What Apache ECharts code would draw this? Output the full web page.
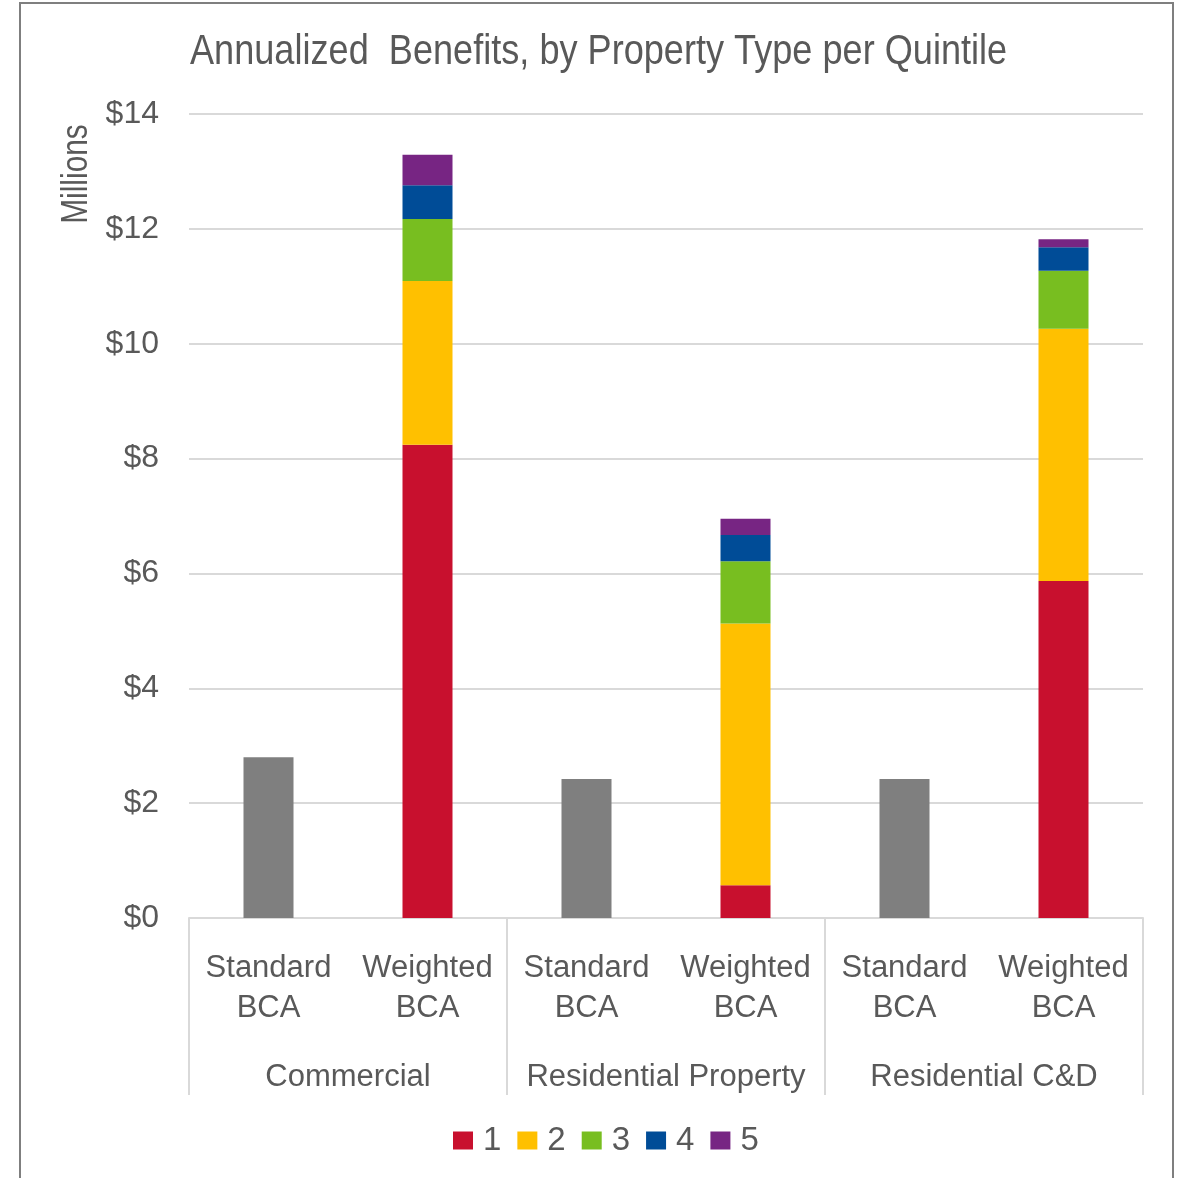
<!DOCTYPE html>
<html>
<head>
<meta charset="utf-8">
<script src="https://cdn.jsdelivr.net/npm/echarts@6/dist/echarts.min.js"></script>
<style>
html,body{margin:0;padding:0;background:#fff;}
#chart{width:1178px;height:1178px;}
</style>
</head>
<body>
<div id="chart"></div>
<script>
// ---- data ----
const categories = ['Standard\nBCA', 'Weighted\nBCA', 'Standard\nBCA', 'Weighted\nBCA', 'Standard\nBCA', 'Weighted\nBCA'];
const groups = ['Commercial', 'Residential Property', 'Residential C&D'];
const standardBCA = [2.80, null, 2.42, null, 2.42, null];
const quintile1 = [null, 8.24, null, 0.57, null, 5.87];
const quintile2 = [null, 2.85, null, 4.56, null, 4.39];
const quintile3 = [null, 1.08, null, 1.08, null, 1.01];
const quintile4 = [null, 0.59, null, 0.46, null, 0.41];
const quintile5 = [null, 0.53, null, 0.28, null, 0.14];
const quintileNames = ['1', '2', '3', '4', '5'];
const yTicks = [0, 2, 4, 6, 8, 10, 12, 14];
const titleText = 'Annualized  Benefits, by Property Type per Quintile';
const yAxisTitle = 'Millions';

const FONT = '"Liberation Sans Narrow", "Arial Narrow", "Liberation Sans", Arial, sans-serif';
const TXT = '#595959';
const quintileColors = ['#c8102e', '#ffc000', '#78be20', '#004c97', '#772583'];
const quintileData = [quintile1, quintile2, quintile3, quintile4, quintile5];

const chart = echarts.init(document.getElementById('chart'));
const series = [{
  name: 'Standard',
  type: 'bar',
  stack: 'total',
  barWidth: 50,
  data: standardBCA,
  itemStyle: { color: '#7f7f7f' },
  xAxisIndex: 0
}];
quintileData.forEach((d, i) => {
  series.push({
    name: quintileNames[i],
    type: 'bar',
    stack: 'total',
    barWidth: 50,
    data: d,
    itemStyle: { color: quintileColors[i] },
    xAxisIndex: 0
  });
});

chart.setOption({
  animation: false,
  backgroundColor: '#fff',
  graphic: [
    {
      type: 'rect',
      shape: { x: 20, y: 3, width: 1153, height: 1220 },
      style: { fill: 'none', stroke: '#7f7f7f', lineWidth: 2 },
      silent: true
    },
    {
      type: 'text',
      x: 190, y: 52,
      scaleX: 0.84,
      style: {
        text: titleText,
        fontFamily: FONT, fontSize: 43, fill: TXT,
        align: 'left', verticalAlign: 'middle'
      }
    },
    {
      type: 'text',
      x: 77, y: 174,
      rotation: Math.PI / 2,
      scaleX: 0.83,
      style: {
        text: yAxisTitle,
        fontFamily: FONT, fontSize: 36, fill: TXT,
        align: 'center', verticalAlign: 'middle'
      }
    }
  ],
  legend: {
    data: quintileNames,
    left: 448,
    top: 1119,
    icon: 'rect',
    itemWidth: 20,
    itemHeight: 18,
    itemGap: 16,
    textStyle: { fontFamily: FONT, fontSize: 33, color: TXT, padding: [0, 0, 0, 5] }
  },
  grid: { left: 189, right: 35, top: 114, bottom: 260 },
  xAxis: [
    {
      type: 'category',
      data: categories,
      axisLine: { show: true, lineStyle: { color: '#d9d9d9', width: 2 } },
      axisTick: { show: false },
      axisLabel: {
        interval: 0, margin: 30,
        fontFamily: FONT, fontSize: 31, color: TXT, lineHeight: 40
      }
    },
    {
      type: 'category',
      data: groups,
      position: 'bottom',
      axisLine: { show: false },
      axisTick: { show: true, interval: 0, length: 177, lineStyle: { color: '#d9d9d9', width: 2 } },
      axisLabel: {
        interval: 0, margin: 139,
        fontFamily: FONT, fontSize: 31, color: TXT, lineHeight: 40
      }
    }
  ],
  yAxis: {
    type: 'value',
    min: yTicks[0],
    max: yTicks[yTicks.length - 1],
    interval: 2,
    axisLine: { show: false },
    axisTick: { show: false },
    splitLine: { lineStyle: { color: '#d9d9d9', width: 2 } },
    axisLabel: {
      margin: 30,
      formatter: v => '$' + v,
      fontFamily: FONT, fontSize: 32, color: TXT
    }
  },
  series: series
});
</script>
</body>
</html>
